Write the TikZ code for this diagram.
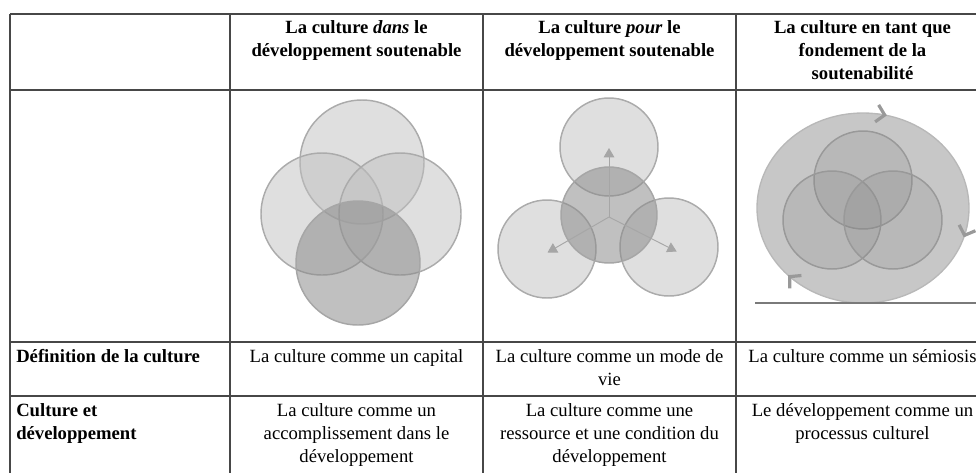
\documentclass[tikz,border=0pt]{standalone}
\usepackage{fontspec}
\setmainfont{Liberation Serif}
\usetikzlibrary{arrows.meta}

\begin{document}
\begin{tikzpicture}[x=0.75pt,y=-0.75pt,
  rule/.style={line width=1.1pt,black!72},
  txt/.style={font=\fontsize{14}{17.5}\selectfont,inner sep=0pt,align=center,anchor=north},
  head/.style={txt,font=\bfseries\fontsize{14}{17.5}\selectfont},
  rowlab/.style={txt,font=\bfseries\fontsize{14}{17.5}\selectfont,align=left,anchor=north west},
  pale/.style={draw=black!33,line width=1.1pt,fill=black!25,fill opacity=0.5},
  deep/.style={draw=black!35,line width=1.1pt,fill=black!45,fill opacity=0.55},
  ring/.style={draw=black!28,line width=1pt,fill=black!22},
  inner/.style={draw=black!40,line width=1.1pt,fill=black!50,fill opacity=0.2},
  spoke/.style={draw=black!35,line width=0.7pt,-{Triangle[length=7pt,width=8pt]}},
  turn/.style={draw=black!27,line width=0.5pt,-{Straight Barb[length=6pt,width=13pt,line width=2.4pt,color=black!40]}},
  base/.style={draw=black!52,line width=1.5pt}]
\useasboundingbox (0,0) rectangle (976,472);

% grille du tableau
\foreach \y in {14,90,342,396} \draw[rule] (10,\y) -- (1000,\y);
\foreach \x in {10,230,483,736} \draw[rule] (\x,14) -- (\x,480);

% dans
\filldraw[pale] (362,162) circle (62);
\filldraw[pale] (322,214) circle (61);
\filldraw[pale] (400,214) circle (61);
\filldraw[deep] (358,263) circle (62);

% pour
\filldraw[pale] (609,147) circle (49);
\filldraw[pale] (547,249) circle (49);
\filldraw[pale] (669,247) circle (49);
\filldraw[deep] (609,215) circle (48);
\coordinate (hub) at (609,217);
\foreach \a/\r in {-90/69,150/71,27/76} \draw[spoke] (hub) -- ++(\a:\r);

% fondement
\filldraw[ring] (863,208) ellipse [x radius=106,y radius=95];
\filldraw[inner] (863,180) circle (49);
\filldraw[inner] (832,220) circle (49);
\filldraw[inner] (893,220) circle (49);
\draw[base] (755,303) -- (1000,303);
\foreach \a in {-77,18,135}
  \draw[turn] (863,208) ++(\a-8:106 and 95) arc[start angle=\a-8,end angle=\a,x radius=106,y radius=95];

% textes
\node[head] (hdans) at (356.5,20) {La culture \textit{dans} le\\développement soutenable};
\node[head] (hpour) at (609.5,20) {La culture \textit{pour} le\\développement soutenable};
\node[head] (hfond) at (862.5,20) {La culture en tant que\\fondement de la\\soutenabilité};
\node[rowlab] (ldef) at (16,349) {Définition de la culture};
\node[txt] (capital) at (356.5,349) {La culture comme un capital};
\node[txt] (vie) at (609.5,349) {La culture comme un mode de\\vie};
\node[txt] (semiosis) at (862.5,349) {La culture comme un sémiosis};
\node[rowlab] (ldev) at (16,403) {Culture et\\développement};
\node[txt] (accomp) at (356.5,403) {La culture comme un\\accomplissement dans le\\développement};
\node[txt] (ressource) at (609.5,403) {La culture comme une\\ressource et une condition du\\développement};
\node[txt] (processus) at (862.5,403) {Le développement comme un\\processus culturel};
\end{tikzpicture}
\end{document}
